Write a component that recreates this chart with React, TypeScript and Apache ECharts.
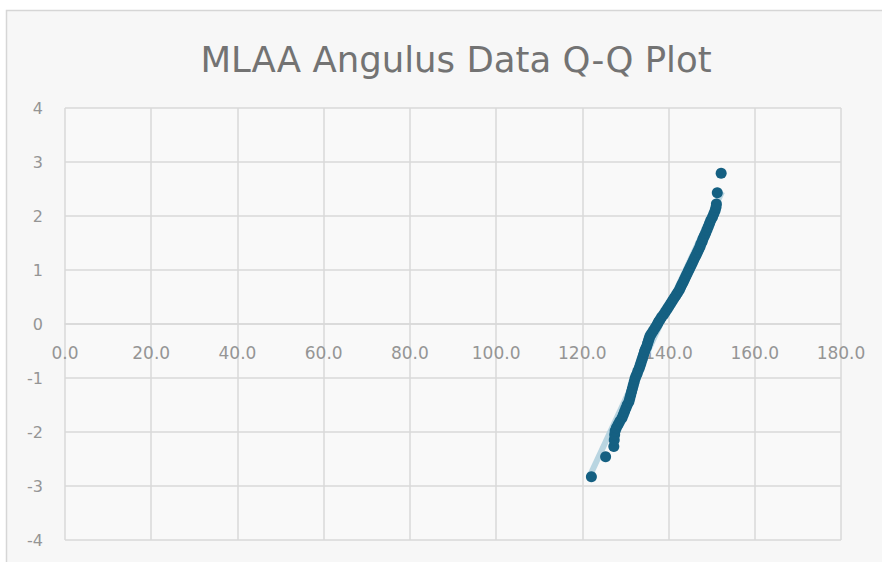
import React, { useEffect, useRef } from "react";
import * as echarts from "echarts";

const titleText = "MLAA Angulus Data Q-Q Plot";

const dataValues = [
  122.1, 125.4, 127.3, 127.4, 127.5, 127.6, 127.9, 128.3, 128.7, 129.2,
  129.5, 129.8, 130.1, 130.4, 130.8, 131.0, 131.2, 131.4, 131.6, 131.8,
  132.0, 132.2, 132.4, 132.7, 132.9, 133.2, 133.4, 133.6, 133.8, 134.0,
  134.2, 134.4, 134.6, 134.9, 135.1, 135.3, 135.5, 135.7, 136.1, 136.5,
  136.9, 137.3, 137.6, 138.0, 138.4, 138.9, 139.3, 139.7, 140.1, 140.5,
  140.9, 141.3, 141.7, 142.1, 142.5, 142.8, 143.1, 143.4, 143.7, 144.0,
  144.3, 144.6, 144.9, 145.2, 145.5, 145.8, 146.1, 146.4, 146.7, 147.0,
  147.3, 147.5, 147.8, 148.0, 148.3, 148.6, 148.9, 149.2, 149.5, 149.8,
  150.2, 150.5, 150.8, 151.0, 151.1, 151.3, 152.2,
];

// Theoretical normal quantiles (y)
const zScores = [
  -2.83, -2.46, -2.27, -2.15, -2.05, -1.98, -1.92, -1.86, -1.8, -1.74,
  -1.68, -1.62, -1.56, -1.5, -1.44, -1.38, -1.32, -1.26, -1.2, -1.14,
  -1.08, -1.02, -0.97, -0.92, -0.87, -0.82, -0.77, -0.72, -0.67, -0.62,
  -0.57, -0.52, -0.47, -0.42, -0.37, -0.32, -0.27, -0.22, -0.17, -0.12,
  -0.07, -0.02, 0.03, 0.08, 0.13, 0.18, 0.23, 0.28, 0.33, 0.38,
  0.43, 0.48, 0.53, 0.58, 0.63, 0.68, 0.73, 0.78, 0.83, 0.88,
  0.93, 0.98, 1.03, 1.08, 1.13, 1.18, 1.23, 1.28, 1.33, 1.38,
  1.43, 1.48, 1.53, 1.58, 1.63, 1.68, 1.74, 1.8, 1.86, 1.92,
  1.98, 2.04, 2.1, 2.16, 2.22, 2.43, 2.79,
];

// Linear trendline endpoints
const trendX = [121.8, 152.4];
const trendY = [-2.8, 2.45];

const xMin = 0;
const xMax = 180;
const xStep = 20;
const yMin = -4;
const yMax = 4;
const yStep = 1;

export default function App() {
  const ref = useRef<HTMLDivElement>(null);

  useEffect(() => {
    if (!ref.current) return;
    const chart = echarts.init(ref.current, undefined, { renderer: "svg" });
    const points = dataValues.map((x, i) => [x, zScores[i]]);
    const trend = trendX.map((x, i) => [x, trendY[i]]);
    const gridColor = "#d9d9d9";
    const labelColor = "#959595";
    const gridTop = 108;
    const gridBottom = 22;
    const plotHeight = 562 - gridTop - gridBottom;
    // distance from the bottom of the plot to the y = 0 line
    const zeroOffset = (plotHeight * (0 - yMin)) / (yMax - yMin);
    chart.setOption({
      animation: false,
      backgroundColor: "#ffffff",
      graphic: [
        {
          type: "rect",
          shape: { x: 6.5, y: 10.5, width: 880, height: 560 },
          style: { fill: "#f7f7f7", stroke: "#d6d6d6", lineWidth: 1.5 },
          z: -10,
        },
      ],
      title: {
        text: titleText,
        left: 451,
        textAlign: "center",
        top: 36,
        textStyle: {
          fontFamily: "DejaVu Sans",
          fontSize: 35.5,
          fontWeight: "normal",
          color: "#737373",
        },
      },
      grid: {
        left: 65,
        top: gridTop,
        right: 41,
        bottom: gridBottom,
        show: true,
        backgroundColor: "#f9f9f9",
        borderWidth: 0,
      },
      xAxis: {
        type: "value",
        min: xMin,
        max: xMax,
        interval: xStep,
        position: "bottom",
        offset: -zeroOffset,
        axisLine: { show: true, onZero: false, lineStyle: { color: gridColor, width: 1.5 } },
        axisTick: { show: false },
        axisLabel: {
          margin: 20,
          color: labelColor,
          fontSize: 17,
          fontFamily: "DejaVu Sans",
          formatter: (v: number) => v.toFixed(1),
        },
        splitLine: { show: true, lineStyle: { color: gridColor, width: 1.5 } },
      },
      yAxis: {
        type: "value",
        min: yMin,
        max: yMax,
        interval: yStep,
        axisLine: { show: false, onZero: false },
        axisTick: { show: false },
        axisLabel: {
          margin: 22,
          color: labelColor,
          fontSize: 16,
          fontFamily: "DejaVu Sans",
        },
        splitLine: { show: true, lineStyle: { color: gridColor, width: 1.5 } },
      },
      series: [
        {
          type: "line",
          data: trend,
          symbol: "none",
          lineStyle: { color: "#b9d5e1", width: 6 },
          z: 1,
        },
        {
          type: "scatter",
          data: points,
          symbol: "circle",
          symbolSize: 11,
          itemStyle: { color: "#156082", opacity: 1 },
          z: 2,
        },
      ],
    });
    return () => chart.dispose();
  }, []);

  return (
    <div
      ref={ref}
      style={{ position: "fixed", left: 0, top: 0, width: 882, height: 562 }}
    />
  );
}
